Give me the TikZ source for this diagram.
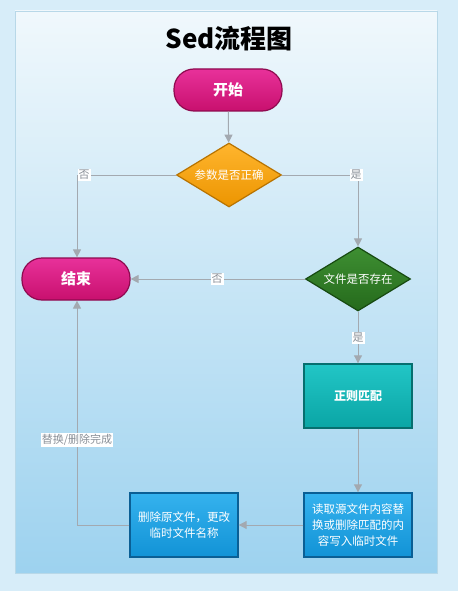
\documentclass[tikz,border=0pt]{standalone}
\usepackage{fontspec}
\setmainfont{Noto Sans CJK SC}
\usetikzlibrary{shapes.geometric,arrows.meta}
\definecolor{bgout}{HTML}{D7EDF9}
\definecolor{paneltop}{HTML}{F0F8FC}
\definecolor{panelbot}{HTML}{9DD2EF}
\definecolor{panelline}{HTML}{B8D8E8}
\definecolor{conn}{HTML}{A3A9B0}
\definecolor{lbltext}{HTML}{8A9098}
\definecolor{magA}{HTML}{E8319A}
\definecolor{magB}{HTML}{C8106E}
\definecolor{magD}{HTML}{8E0A4F}
\definecolor{orA}{HTML}{FFB52E}
\definecolor{orB}{HTML}{EC9500}
\definecolor{orD}{HTML}{B87300}
\definecolor{grA}{HTML}{3E8F32}
\definecolor{grB}{HTML}{256A1C}
\definecolor{grD}{HTML}{174A11}
\definecolor{tlA}{HTML}{22C6C6}
\definecolor{tlB}{HTML}{0AA5A5}
\definecolor{tlD}{HTML}{066F6F}
\definecolor{blA}{HTML}{35B2EE}
\definecolor{blB}{HTML}{1293D6}
\definecolor{blD}{HTML}{0A5F95}
\tikzset{
  pill/.style={rounded corners=20pt, minimum width=108pt, minimum height=42pt, inner sep=0pt,
    top color=magA, bottom color=magB, draw=magD, line width=1.2pt,
    text=white, font=\fontsize{15}{17}\selectfont\bfseries},
  dia/.style={diamond, shape aspect=1.6, minimum width=105pt, minimum height=64pt, inner sep=0pt,
    line width=1.2pt, text=white, font=\fontsize{11.5}{13}\selectfont},
  procbox/.style={rectangle, minimum width=108pt, minimum height=64pt, inner sep=0pt,
    line width=1.4pt, text=white, align=center, font=\fontsize{11.5}{16}\selectfont},
  conn/.style={draw=conn, line width=1pt, -{Triangle[width=8pt,length=8pt]}},
  lbl/.style={fill=white, text=lbltext, inner sep=1pt, font=\fontsize{11}{12}\selectfont}
}
\begin{document}
\begin{tikzpicture}[x=1pt,y=-1pt]
\useasboundingbox (0,0) rectangle (458,591);
\fill[bgout] (0,0) rectangle (458,591);
\shade[top color=paneltop, bottom color=panelbot] (15,11) rectangle (437,573);
\draw[panelline, line width=0.8pt] (15,11) rectangle (437,573);

\node[font=\fontsize{26}{30}\selectfont\bfseries] (title) at (229,39) {Sed流程图};

\node[pill] (start) at (228,90) {开始};
\node[dia, top color=orA, bottom color=orB, draw=orD] (d1) at (229,175) {参数是否正确};
\node[pill] (end) at (76,279) {结束};
\node[dia, top color=grA, bottom color=grB, draw=grD] (d2) at (358,279) {文件是否存在};
\node[procbox, top color=tlA, bottom color=tlB, draw=tlD, font=\fontsize{12}{14}\selectfont\bfseries] (match) at (358,396) {正则匹配};
\node[procbox, top color=blA, bottom color=blB, draw=blD] (rw) at (358,525) {读取源文件内容替\\换或删除匹配的内\\容写入临时文件};
\node[procbox, top color=blA, bottom color=blB, draw=blD] (del) at (184,525) {删除原文件，更改\\临时文件名称};

\coordinate (c1) at (77,175);
\coordinate (c2) at (358,175);

\draw[conn] (start) -- (d1);
\draw[conn] (d1.west) -- (c1) -- (end.north -| c1);
\draw[conn] (d1.east) -- (c2) -- (d2.north);
\draw[conn] (d2.west) -- (end.east);
\draw[conn] (d2.south) -- (match.north);
\draw[conn] (match.south) -- (rw.north);
\draw[conn] (rw.west) -- (del.east);
\draw[conn] (del.west) -- (del.west -| c1) -- (end.south -| c1);

\node[lbl] (l1) at (84,175) {否};
\node[lbl] (l2) at (356,175) {是};
\node[lbl] (l3) at (217,279) {否};
\node[lbl] (l4) at (358,338) {是};
\node[lbl] (l5) at (77,440) {替换/删除完成};
\end{tikzpicture}
\end{document}
